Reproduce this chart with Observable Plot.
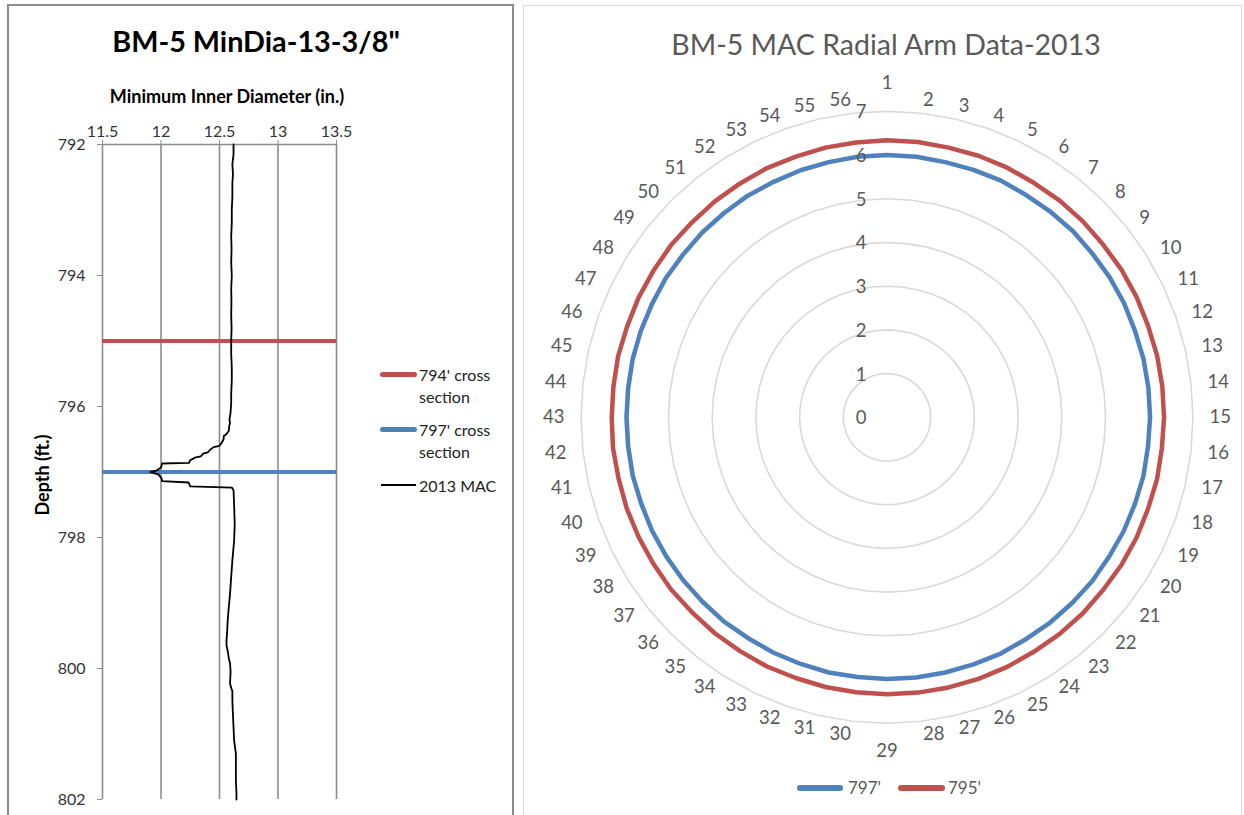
<!DOCTYPE html>
<html><head><meta charset="utf-8">
<script src="https://cdn.jsdelivr.net/npm/d3@7"></script>
<script src="https://cdn.jsdelivr.net/npm/@observablehq/plot@0.6"></script>
<style>
html,body{margin:0;padding:0;background:#fff;overflow:hidden;}
body{width:1244px;height:815px;position:relative;font-family:Lato,"Open Sans",sans-serif;}
.abs{position:absolute;white-space:nowrap;line-height:1.2;}
.c{transform:translate(-50%,-50%);}
.l{transform:translate(0,-50%);}
.sw{position:absolute;border-radius:3px;}
#leftPanel{position:absolute;left:7px;top:4px;width:507px;height:840px;border:2px solid #8c8c8c;box-sizing:border-box;}
#rightPanel{position:absolute;left:523px;top:5px;width:719px;height:840px;border:1.5px solid #d9d9d9;box-sizing:border-box;}
#leftChart{position:absolute;left:0;top:0;}
#rightChart{position:absolute;left:523px;top:0;}
</style></head>
<body>
<div id="leftPanel"></div>
<div id="rightPanel"></div>
<div id="leftChart"></div>
<div id="rightChart"></div>

<div class="abs c" style="left:256px;top:41px;font-size:28.8px;font-weight:700;color:#000;">BM-5 MinDia-13-3/8"</div>
<div class="abs c" style="left:227px;top:97px;font-size:18px;font-weight:700;color:#000;">Minimum Inner Diameter (in.)</div>
<div class="abs" style="left:43px;top:475px;font-size:18px;font-weight:700;color:#000;transform:translate(-50%,-50%) rotate(-90deg);">Depth (ft.)</div>

<div class="sw" style="left:380px;top:372px;width:37px;height:4.5px;background:#c0504d;"></div>
<div class="abs l" style="left:419px;top:375px;font-size:16px;color:#222;">794' cross</div>
<div class="abs l" style="left:419px;top:397px;font-size:16px;color:#222;">section</div>
<div class="sw" style="left:380px;top:427px;width:37px;height:4.5px;background:#4f81bd;"></div>
<div class="abs l" style="left:419px;top:430px;font-size:16px;color:#222;">797' cross</div>
<div class="abs l" style="left:419px;top:452px;font-size:16px;color:#222;">section</div>
<div class="sw" style="left:381px;top:484px;width:35px;height:1.6px;background:#000;border-radius:0;"></div>
<div class="abs l" style="left:419px;top:486px;font-size:16px;color:#222;">2013 MAC</div>

<div class="abs c" style="left:886px;top:44px;font-size:28.5px;color:#595959;">BM-5 MAC Radial Arm Data-2013</div>
<div class="sw" style="left:797px;top:785px;width:46px;height:5.5px;background:#4f81bd;"></div>
<div class="abs l" style="left:848px;top:788px;font-size:17px;color:#595959;">797'</div>
<div class="sw" style="left:898px;top:785px;width:47px;height:5.5px;background:#c0504d;"></div>
<div class="abs l" style="left:948px;top:788px;font-size:17px;color:#595959;">795'</div>

<script>
// ---------- Left chart data ----------
const depthFt = [792.00, 792.15, 792.30, 792.45, 792.60, 792.80, 793.00, 793.20, 793.40, 793.60,
  793.80, 794.00, 794.20, 794.40, 794.60, 794.80, 795.00, 795.20, 795.40, 795.60,
  795.80, 795.95, 796.10, 796.20, 796.25, 796.30, 796.37, 796.42, 796.45, 796.50,
  796.55, 796.60, 796.62, 796.66, 796.70, 796.72, 796.76, 796.78, 796.82, 796.86,
  796.87, 796.93, 796.98, 797.00, 797.04, 797.10, 797.14, 797.16, 797.22, 797.24,
  797.28, 797.50, 797.80, 798.05, 798.35, 798.60, 798.86, 799.05, 799.27, 799.45,
  799.57, 799.65, 799.73, 799.85, 799.92, 800.05, 800.23, 800.30, 800.34, 800.50,
  800.70, 800.90, 801.10, 801.30, 801.50, 801.70, 801.90, 802.00];
const minDiaIn = [12.620, 12.620, 12.610, 12.615, 12.610, 12.610, 12.605, 12.605, 12.600, 12.603,
  12.600, 12.605, 12.600, 12.602, 12.600, 12.603, 12.600, 12.600, 12.605, 12.605,
  12.600, 12.600, 12.594, 12.585, 12.590, 12.583, 12.580, 12.560, 12.537, 12.535,
  12.520, 12.500, 12.450, 12.420, 12.400, 12.360, 12.340, 12.290, 12.250, 12.240,
  12.010, 12.000, 11.960, 11.910, 11.980, 12.005, 12.010, 12.235, 12.250, 12.607,
  12.620, 12.625, 12.630, 12.625, 12.610, 12.600, 12.590, 12.580, 12.570, 12.565,
  12.560, 12.560, 12.570, 12.580, 12.590, 12.595, 12.590, 12.600, 12.610, 12.610,
  12.615, 12.620, 12.625, 12.640, 12.640, 12.640, 12.645, 12.645];
const crossSectionDepths = [795, 797];
const crossSectionColors = ["#c0504d", "#4f81bd"];
const diaTicks = [11.5, 12, 12.5, 13, 13.5];
const depthTicks = [792, 794, 796, 798, 800, 802];

// ---------- Right chart data ----------
const arms = d3.range(1, 57);
const series797 = [6.00, 6.00, 5.99, 6.00, 6.01, 6.00, 6.01, 6.02, 6.01, 6.02,
  6.02, 6.01, 6.02, 6.02, 6.02, 6.01, 6.02, 6.01, 6.01, 6.00,
  6.01, 6.00, 6.00, 5.99, 6.00, 5.99, 5.99, 5.99, 5.99, 5.98,
  5.99, 5.98, 5.98, 5.97, 5.98, 5.97, 5.97, 5.97, 5.97, 5.96,
  5.97, 5.96, 5.96, 5.96, 5.97, 5.97, 5.97, 5.98, 5.97, 5.98,
  5.98, 5.99, 5.98, 5.99, 5.99, 6.00];
const series795 = [6.34, 6.34, 6.33, 6.34, 6.34, 6.33, 6.34, 6.34, 6.33, 6.34,
  6.34, 6.33, 6.34, 6.34, 6.34, 6.33, 6.34, 6.33, 6.34, 6.34,
  6.33, 6.34, 6.34, 6.33, 6.34, 6.34, 6.34, 6.34, 6.34, 6.33,
  6.33, 6.32, 6.33, 6.32, 6.32, 6.31, 6.32, 6.31, 6.31, 6.31,
  6.30, 6.31, 6.30, 6.30, 6.31, 6.30, 6.31, 6.31, 6.32, 6.31,
  6.32, 6.32, 6.33, 6.32, 6.33, 6.33];
const ringTicks = [0, 1, 2, 3, 4, 5, 6, 7];

// ---------- Left chart ----------
const mac = depthFt.map((d, i) => ({depth: d, dia: minDiaIn[i]}));
const grey = "#8c8c8c";
const left = Plot.plot({
  width: 520, height: 815,
  marginLeft: 102, marginRight: 184, marginTop: 144, marginBottom: 16,
  style: {fontFamily: "Lato, 'Open Sans', sans-serif", fontSize: "16px", background: "transparent"},
  x: {domain: [11.5, 13.5]},
  y: {domain: [792, 802], reverse: true},
  marks: [
    Plot.ruleX(diaTicks, {stroke: grey, strokeWidth: 1.6}),
    Plot.ruleY([792], {stroke: grey, strokeWidth: 1.6}),
    Plot.axisX({anchor: "top", ticks: diaTicks, tickFormat: d => String(d), tickSize: 5, tickPadding: 3,
      stroke: grey, fill: "#333", fontSize: 16, label: null}),
    Plot.axisY({anchor: "left", ticks: depthTicks, tickFormat: d => String(d), tickSize: 5, tickPadding: 12,
      stroke: grey, fill: "#333", fontSize: 16, label: null}),
    Plot.ruleY(crossSectionDepths, {stroke: (d, i) => crossSectionColors[i], strokeWidth: 4}),
    Plot.line(mac, {x: "dia", y: "depth", stroke: "#000", strokeWidth: 1.8, curve: "linear"})
  ]
});
document.getElementById("leftChart").appendChild(left);

// ---------- Right chart (radar) ----------
const n = arms.length;
const ang = j => (j % n) * 2 * Math.PI / n;
const cx = 363.5, cy = 416.8, k = 43.7;
const toPts = (vals, name) => d3.range(n + 1).map(j => ({s: name, x: vals[j % n] * Math.sin(ang(j)), y: vals[j % n] * Math.cos(ang(j))}));
const rings = ringTicks.filter(r => r > 0).flatMap(r => d3.range(n + 1).map(j => ({r, x: r * Math.sin(ang(j)), y: r * Math.cos(ang(j))})));
const armLabels = arms.map((a, i) => ({a, th: ang(i), s: Math.abs(Math.sin(ang(i))) < 1e-9 ? 0 : Math.sign(Math.sin(ang(i)))}));
const lrx = 322.5 / k, lry = 319 / k, lrv = 334 / k;
const labelStyle = {fill: "#595959", fontSize: 18.5, text: d => String(d.a)};
const right = Plot.plot({
  width: 721, height: 815, margin: 0,
  style: {fontFamily: "Lato, 'Open Sans', sans-serif", fontSize: "18.5px", background: "transparent"},
  x: {domain: [-1, 1], range: [cx - k, cx + k], axis: null},
  y: {domain: [-1, 1], range: [cy + k, cy - k], axis: null},
  marks: [
    Plot.line(rings, {x: "x", y: "y", z: "r", stroke: "#d9d9d9", strokeWidth: 1.6}),
    Plot.line(toPts(series797, "797'"), {x: "x", y: "y", stroke: "#4f81bd", strokeWidth: 4.5, strokeLinejoin: "round"}),
    Plot.line(toPts(series795, "795'"), {x: "x", y: "y", stroke: "#c0504d", strokeWidth: 4.5, strokeLinejoin: "round"}),
    Plot.text(ringTicks, {x: 0, y: d => d, dx: -26, dy: 1, text: d => String(d), fill: "#595959", fontSize: 18.5}),
    Plot.text(armLabels.filter(d => d.s > 0), {...labelStyle, textAnchor: "start",
      x: d => lrx * Math.sin(d.th), y: d => lry * Math.cos(d.th)}),
    Plot.text(armLabels.filter(d => d.s < 0), {...labelStyle, textAnchor: "end",
      x: d => lrx * Math.sin(d.th), y: d => lry * Math.cos(d.th)}),
    Plot.text(armLabels.filter(d => d.s === 0), {...labelStyle, textAnchor: "middle",
      x: 0, y: d => lrv * Math.cos(d.th)})
  ]
});
document.getElementById("rightChart").appendChild(right);
</script>
</body></html>
